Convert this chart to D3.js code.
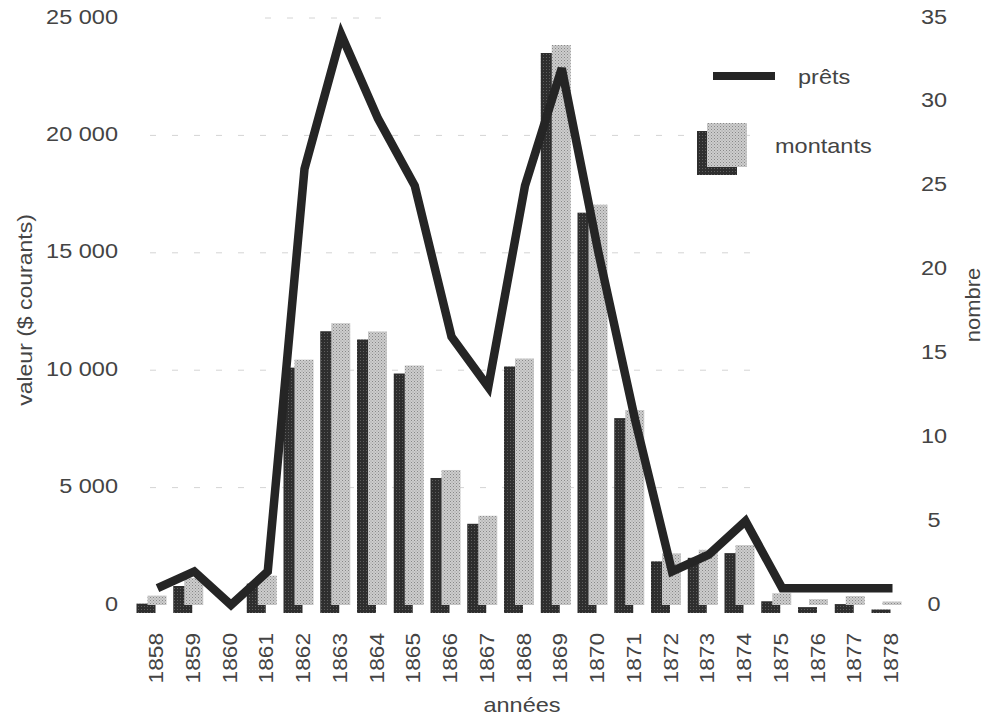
<!DOCTYPE html>
<html><head><meta charset="utf-8">
<script src="https://cdn.jsdelivr.net/npm/d3@7"></script>
<style>html,body{margin:0;padding:0;background:#fff;}svg{display:block;}</style>
</head><body>
<svg id="chart" width="992" height="719"></svg>
<script>
const years = [1858,1859,1860,1861,1862,1863,1864,1865,1866,1867,1868,1869,1870,1871,1872,1873,1874,1875,1876,1877,1878];
const montants = [400,1150,0,1250,10450,12000,11650,10200,5750,3800,10500,23850,17050,8300,2200,2350,2550,500,250,380,150];
const prets = [1,2,0,2,26,34,29,25,16,13,25,32,21,11,2,3,5,1,1,1,1];
const leftTicks = [0,5000,10000,15000,20000,25000];
const rightTicks = [0,5,10,15,20,25,30,35];

const svg = d3.select("#chart");
const FONT = "'Liberation Sans', Arial, Helvetica, sans-serif";
const TXT = "#444";

const x = d3.scalePoint().domain(years).range([157.5, 892.5]);
const yL = d3.scaleLinear().domain([0,25000]).range([605,18]);
const yR = d3.scaleLinear().domain([0,35]).range([605,18]);

// stipple patterns
const defs = svg.append("defs");
const pl = defs.append("pattern").attr("id","light").attr("width",3).attr("height",3).attr("patternUnits","userSpaceOnUse");
pl.append("rect").attr("width",3).attr("height",3).attr("fill","#cdcdcd");
pl.append("rect").attr("x",0).attr("y",0).attr("width",1).attr("height",1).attr("fill","#888");
pl.append("rect").attr("x",1.5).attr("y",1.5).attr("width",1).attr("height",1).attr("fill","#9a9a9a");
const pd = defs.append("pattern").attr("id","dark").attr("width",3).attr("height",3).attr("patternUnits","userSpaceOnUse");
pd.append("rect").attr("width",3).attr("height",3).attr("fill","#2e2e2e");
pd.append("rect").attr("x",0).attr("y",0).attr("width",1).attr("height",1).attr("fill","#5e5e5e");

function stext(g, str, px, py, opts) {
  const o = Object.assign({size:21, sx:1.12, rot:0, anchor:"start", baseline:"auto"}, opts||{});
  let tr = `translate(${px},${py})`;
  if (o.rot) tr += ` rotate(${o.rot})`;
  tr += ` scale(${o.sx},1)`;
  return g.append("text").attr("transform", tr)
    .attr("font-family", FONT).attr("font-size", o.size).attr("fill", TXT)
    .attr("text-anchor", o.anchor).attr("dominant-baseline", o.baseline).text(str);
}

// faint dashed gridlines
const grid = svg.append("g");
leftTicks.filter(t => t > 0).forEach(t => {
  grid.append("line").attr("x1",t === 25000 ? 265 : 150).attr("x2",t === 25000 ? 390 : 765)
    .attr("y1",yL(t)).attr("y2",yL(t))
    .attr("stroke","#d4d4d4").attr("stroke-width",1).attr("stroke-dasharray","6,16");
});

// left axis labels
const gl = svg.append("g");
leftTicks.forEach(t => {
  stext(gl, t === 0 ? "0" : d3.format(",")(t).replace(",", " "), 118, yL(t), {anchor:"end", baseline:"middle"});
});
// right axis labels
const gr = svg.append("g");
rightTicks.forEach(t => {
  stext(gr, String(t), 934, yR(t), {anchor:"middle", baseline:"middle"});
});

// bars: shadow then front
const bars = svg.append("g");
const data = years.map((yr,i) => ({yr, v: montants[i], n: prets[i]}));
bars.selectAll("rect.sh").data(data.filter(d => d.v > 0)).join("rect")
  .attr("class","sh")
  .attr("x", d => x(d.yr) - 21).attr("width", 19)
  .attr("y", d => yL(d.v) + 8).attr("height", d => yL(0) - yL(d.v))
  .attr("fill","url(#dark)");
bars.selectAll("rect.fr").data(data.filter(d => d.v > 0)).join("rect")
  .attr("class","fr")
  .attr("x", d => x(d.yr) - 10).attr("width", 19)
  .attr("y", d => yL(d.v)).attr("height", d => yL(0) - yL(d.v))
  .attr("fill","url(#light)");

// line
const line = d3.line().x(d => x(d.yr)).y(d => yR(d.n));
svg.append("path").datum(data).attr("d", line)
  .attr("fill","none").attr("stroke","#252525").attr("stroke-width",8.5)
  .attr("stroke-linejoin","miter").attr("stroke-miterlimit",3);

// x labels (rotated)
const gx = svg.append("g");
years.forEach(yr => {
  stext(gx, String(yr), x(yr), 633, {rot:-90, anchor:"end", baseline:"middle", sx:1.08});
});

// axis titles
stext(svg, "années", 522, 712, {anchor:"middle", size:21});
stext(svg, "valeur ($ courants)", 32, 310, {rot:-90, anchor:"middle", size:20, sx:1.15});
stext(svg, "nombre", 980, 305, {rot:-90, anchor:"middle", size:20, sx:1.1});

// legend
const lg = svg.append("g");
lg.append("line").attr("x1",713).attr("x2",775).attr("y1",76).attr("y2",76)
  .attr("stroke","#252525").attr("stroke-width",8);
stext(lg, "prêts", 798, 84, {size:21});
lg.append("rect").attr("x",697).attr("y",131).attr("width",40).attr("height",44).attr("fill","url(#dark)");
lg.append("rect").attr("x",707).attr("y",123).attr("width",40).attr("height",44).attr("fill","url(#light)");
stext(lg, "montants", 775, 153, {size:21});
</script>
</body></html>
